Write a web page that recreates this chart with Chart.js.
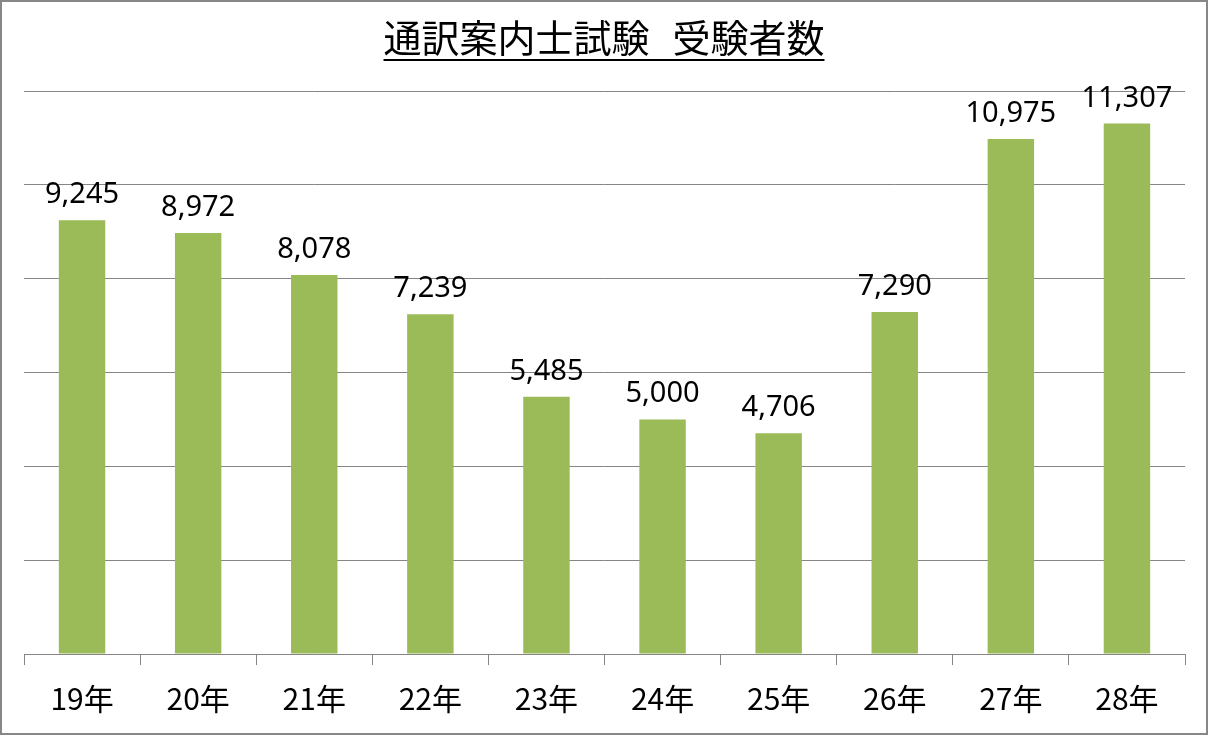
<!DOCTYPE html>
<html>
<head>
<meta charset="utf-8">
<script src="https://cdn.jsdelivr.net/npm/chart.js@4"></script>
<style>
  body { margin: 0; background: #fff; }
  #wrap { width: 1208px; height: 735px; box-sizing: border-box; border: 2px solid #878787; position: relative; }
  canvas { display: block; }
</style>
</head>
<body>
<div id="wrap"><canvas id="myChart" width="1204" height="731"></canvas></div>
<script>
'use strict';

// chart data
let titleParts = ['通訳案内士試験', '受験者数'];
let years = ['19年', '20年', '21年', '22年', '23年', '24年', '25年', '26年', '27年', '28年'];
let examinees = [9245, 8972, 8078, 7239, 5485, 5000, 4706, 7290, 10975, 11307];

let yMax = 12000;
let yStep = 2000;

// underlined title drawn at top
let titlePlugin = {
  id: 'underlinedTitle',
  afterDraw(chart) {
    let ctx = chart.ctx;
    ctx.save();
    ctx.font = '38px "Noto Sans CJK JP"';
    ctx.fillStyle = '#000';
    ctx.textAlign = 'left';
    ctx.textBaseline = 'alphabetic';
    let gap = 23;
    let w1 = ctx.measureText(titleParts[0]).width;
    let w2 = ctx.measureText(titleParts[1]).width;
    let w = w1 + gap + w2;
    let x0 = chart.width / 2 - w / 2;
    ctx.fillText(titleParts[0], x0, 50);
    ctx.fillText(titleParts[1], x0 + w1 + gap, 50);
    ctx.fillRect(x0, 57, w, 2);
    ctx.restore();
  }
};

// value labels above the bars
let valueLabels = {
  id: 'valueLabels',
  afterDatasetsDraw(chart) {
    let ctx = chart.ctx;
    let meta = chart.getDatasetMeta(0);
    ctx.save();
    ctx.font = '29px "Noto Sans", sans-serif';
    ctx.fillStyle = '#000';
    ctx.textAlign = 'center';
    ctx.textBaseline = 'alphabetic';
    meta.data.forEach(function (bar, i) {
      ctx.fillText(examinees[i].toLocaleString('en-US'), bar.x, bar.y - 17);
    });
    ctx.restore();
  }
};

const ctx = document.getElementById('myChart');
new Chart(ctx, {
  type: 'bar',
  data: {
    labels: years,
    datasets: [{
      label: '受験者数',
      data: examinees,
      backgroundColor: '#9BBB59',
      borderWidth: 0,
      barPercentage: 0.4,
      categoryPercentage: 1
    }]
  },
  options: {
    responsive: false,
    animation: false,
    layout: { padding: { left: 22, right: 21, top: 89, bottom: 0 } },
    plugins: {
      legend: { display: false },
      tooltip: { enabled: false },
      title: { display: false }
    },
    scales: {
      x: {
        grid: { display: true, drawOnChartArea: false, drawTicks: true, tickLength: 11, color: '#868686', offset: true },
        border: { display: true, color: '#868686', width: 1 },
        ticks: { color: '#000', font: { size: 30, family: '"Noto Sans CJK JP"' }, padding: 16 }
      },
      y: {
        min: 0,
        max: yMax,
        ticks: { display: false, stepSize: yStep },
        grid: { color: '#868686', drawTicks: false },
        border: { display: false }
      }
    }
  },
  plugins: [titlePlugin, valueLabels]
});
</script>
</body>
</html>
